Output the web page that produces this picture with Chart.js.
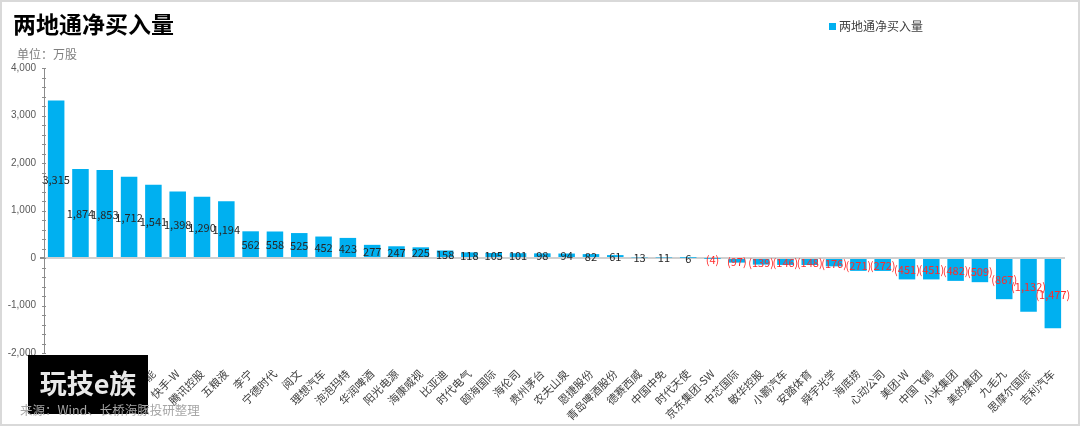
<!DOCTYPE html>
<html>
<head>
<meta charset="utf-8">
<script src="https://cdn.jsdelivr.net/npm/chart.js@4.4.1/dist/chart.umd.min.js"></script>
<style>
html,body{margin:0;padding:0;background:#fff;}
#wrap{position:relative;width:1080px;height:426px;}
</style>
</head>
<body>
<div id="wrap"><canvas id="c" width="1080" height="426"></canvas></div>
<script>
// Data (first four names are hidden under the overlay box in the reference)
const categories = ['中海油','长江电力','紫金矿业','招商银行','隆基绿能','快手-W','腾讯控股','五粮液','李宁','宁德时代','阅文','理想汽车','泡泡玛特','华润啤酒','阳光电源','海康威视','比亚迪','时代电气','颐海国际','海伦司','贵州茅台','农夫山泉','恩捷股份','青岛啤酒股份','德赛西威','中国中免','时代天使','京东集团-SW','中芯国际','敏华控股','小鹏汽车','安踏体育','舜宇光学','海底捞','心动公司','美团-W','中国飞鹤','小米集团','美的集团','九毛九','思摩尔国际','吉利汽车'];
const netBuy = [3315,1874,1853,1712,1541,1398,1290,1194,562,558,525,452,423,277,247,225,158,118,105,101,98,94,82,61,13,11,6,-4,-97,-139,-146,-148,-176,-271,-272,-451,-451,-482,-509,-867,-1132,-1477];
const seriesName = '两地通净买入量';
const yTicks = [-2000,-1000,0,1000,2000,3000,4000];
const titleText = '两地通净买入量';
const unitText = '单位：万股';
const sourceText = '来源：Wind、长桥海豚投研整理';
const overlayText = '玩技e族';

const CJK = '"Noto Sans CJK SC","Noto Sans",sans-serif';
const fmt = v => {
  const s = Math.abs(v).toLocaleString('en-US');
  return v < 0 ? '(' + s + ')' : s;
};

const decor = {
  id: 'decor',
  beforeDraw(chart) {
    const ctx = chart.ctx;
    ctx.save();
    ctx.fillStyle = '#fff';
    ctx.fillRect(0, 0, chart.width, chart.height);
    ctx.restore();
  },
  afterDatasetsDraw(chart) {
    const ctx = chart.ctx;
    const meta = chart.getDatasetMeta(0);
    ctx.save();
    ctx.font = '11px ' + CJK;
    ctx.textAlign = 'center';
    ctx.textBaseline = 'middle';
    meta.data.forEach((bar, i) => {
      const v = netBuy[i];
      const yc = (bar.y + bar.base) / 2;
      ctx.fillStyle = v < 0 ? '#ff2a2a' : '#262626';
      ctx.fillText(fmt(v), bar.x, yc + 1);
    });
    // minor ticks on y axis
    const ys = chart.scales.y;
    ctx.strokeStyle = '#8c8c8c';
    ctx.lineWidth = 1;
    for (let v = ys.min; v <= ys.max; v += 200) {
      const py = Math.round(ys.getPixelForValue(v)) + 0.5;
      ctx.beginPath();
      ctx.moveTo(ys.right - 2, py);
      ctx.lineTo(ys.right + 2, py);
      ctx.stroke();
    }
    ctx.restore();
  },
  afterDraw(chart) {
    const ctx = chart.ctx;
    ctx.save();
    // title
    ctx.fillStyle = '#000';
    ctx.font = 'bold 23px ' + CJK;
    ctx.textBaseline = 'middle';
    ctx.textAlign = 'left';
    ctx.fillText(titleText, 13, 24);
    // unit
    ctx.fillStyle = '#7f7f7f';
    ctx.font = '12px ' + CJK;
    ctx.fillText(unitText, 17, 54);
    // legend
    ctx.fillStyle = '#00b0f0';
    ctx.fillRect(829, 23, 7, 7);
    ctx.fillStyle = '#404040';
    ctx.font = '12px ' + CJK;
    ctx.fillText(seriesName, 839, 26);
    // overlay box
    ctx.fillStyle = '#000';
    ctx.fillRect(28, 355, 120, 59);
    ctx.fillStyle = '#e8e8e8';
    ctx.font = 'bold 27px ' + CJK;
    ctx.textAlign = 'center';
    ctx.fillText(overlayText, 88, 384);
    // source
    ctx.textAlign = 'left';
    ctx.fillStyle = '#a6a6a6';
    ctx.font = '12.5px ' + CJK;
    ctx.fillText(sourceText, 20, 410);
    // frame
    ctx.strokeStyle = '#d9d9d9';
    ctx.lineWidth = 2;
    ctx.strokeRect(1, 1, chart.width - 2, chart.height - 2);
    ctx.restore();
  }
};

new Chart(document.getElementById('c'), {
  type: 'bar',
  data: {
    labels: categories,
    datasets: [{
      label: seriesName,
      data: netBuy,
      backgroundColor: '#00b0f0',
      borderWidth: 0,
      barPercentage: 0.68,
      categoryPercentage: 1.0
    }]
  },
  options: {
    responsive: false,
    animation: false,
    devicePixelRatio: 1,
    layout: { padding: { top: 68, left: 0, right: 15, bottom: 0 } },
    plugins: { legend: { display: false }, tooltip: { enabled: false }, title: { display: false } },
    scales: {
      x: {
        position: 'bottom',
        grid: { display: false },
        border: { display: false },
        ticks: {
          autoSkip: false,
          maxRotation: 45,
          minRotation: 45,
          padding: 6,
          color: '#404040',
          font: { size: 11, family: CJK }
        },
        afterFit(scale) { scale.height = 73; }
      },
      y: {
        min: -2000,
        max: 4000,
        afterBuildTicks(scale) { scale.ticks = yTicks.map(v => ({ value: v })); },
        ticks: {
          color: '#595959',
          font: { size: 10, family: '"Liberation Sans",Arial,sans-serif' },
          padding: 4,
          callback: v => v.toLocaleString('en-US')
        },
        grid: {
          color: c => (c.tick && c.tick.value === 0) ? '#d0d0d0' : 'rgba(0,0,0,0)',
          lineWidth: c => (c.tick && c.tick.value === 0) ? 2 : 0,
          tickColor: '#8c8c8c',
          tickLength: 4,
          drawOnChartArea: true
        },
        border: { display: true, color: '#8c8c8c', width: 1 },
        afterFit(scale) { scale.width = 44; }
      }
    }
  },
  plugins: [decor]
});
</script>
</body>
</html>
